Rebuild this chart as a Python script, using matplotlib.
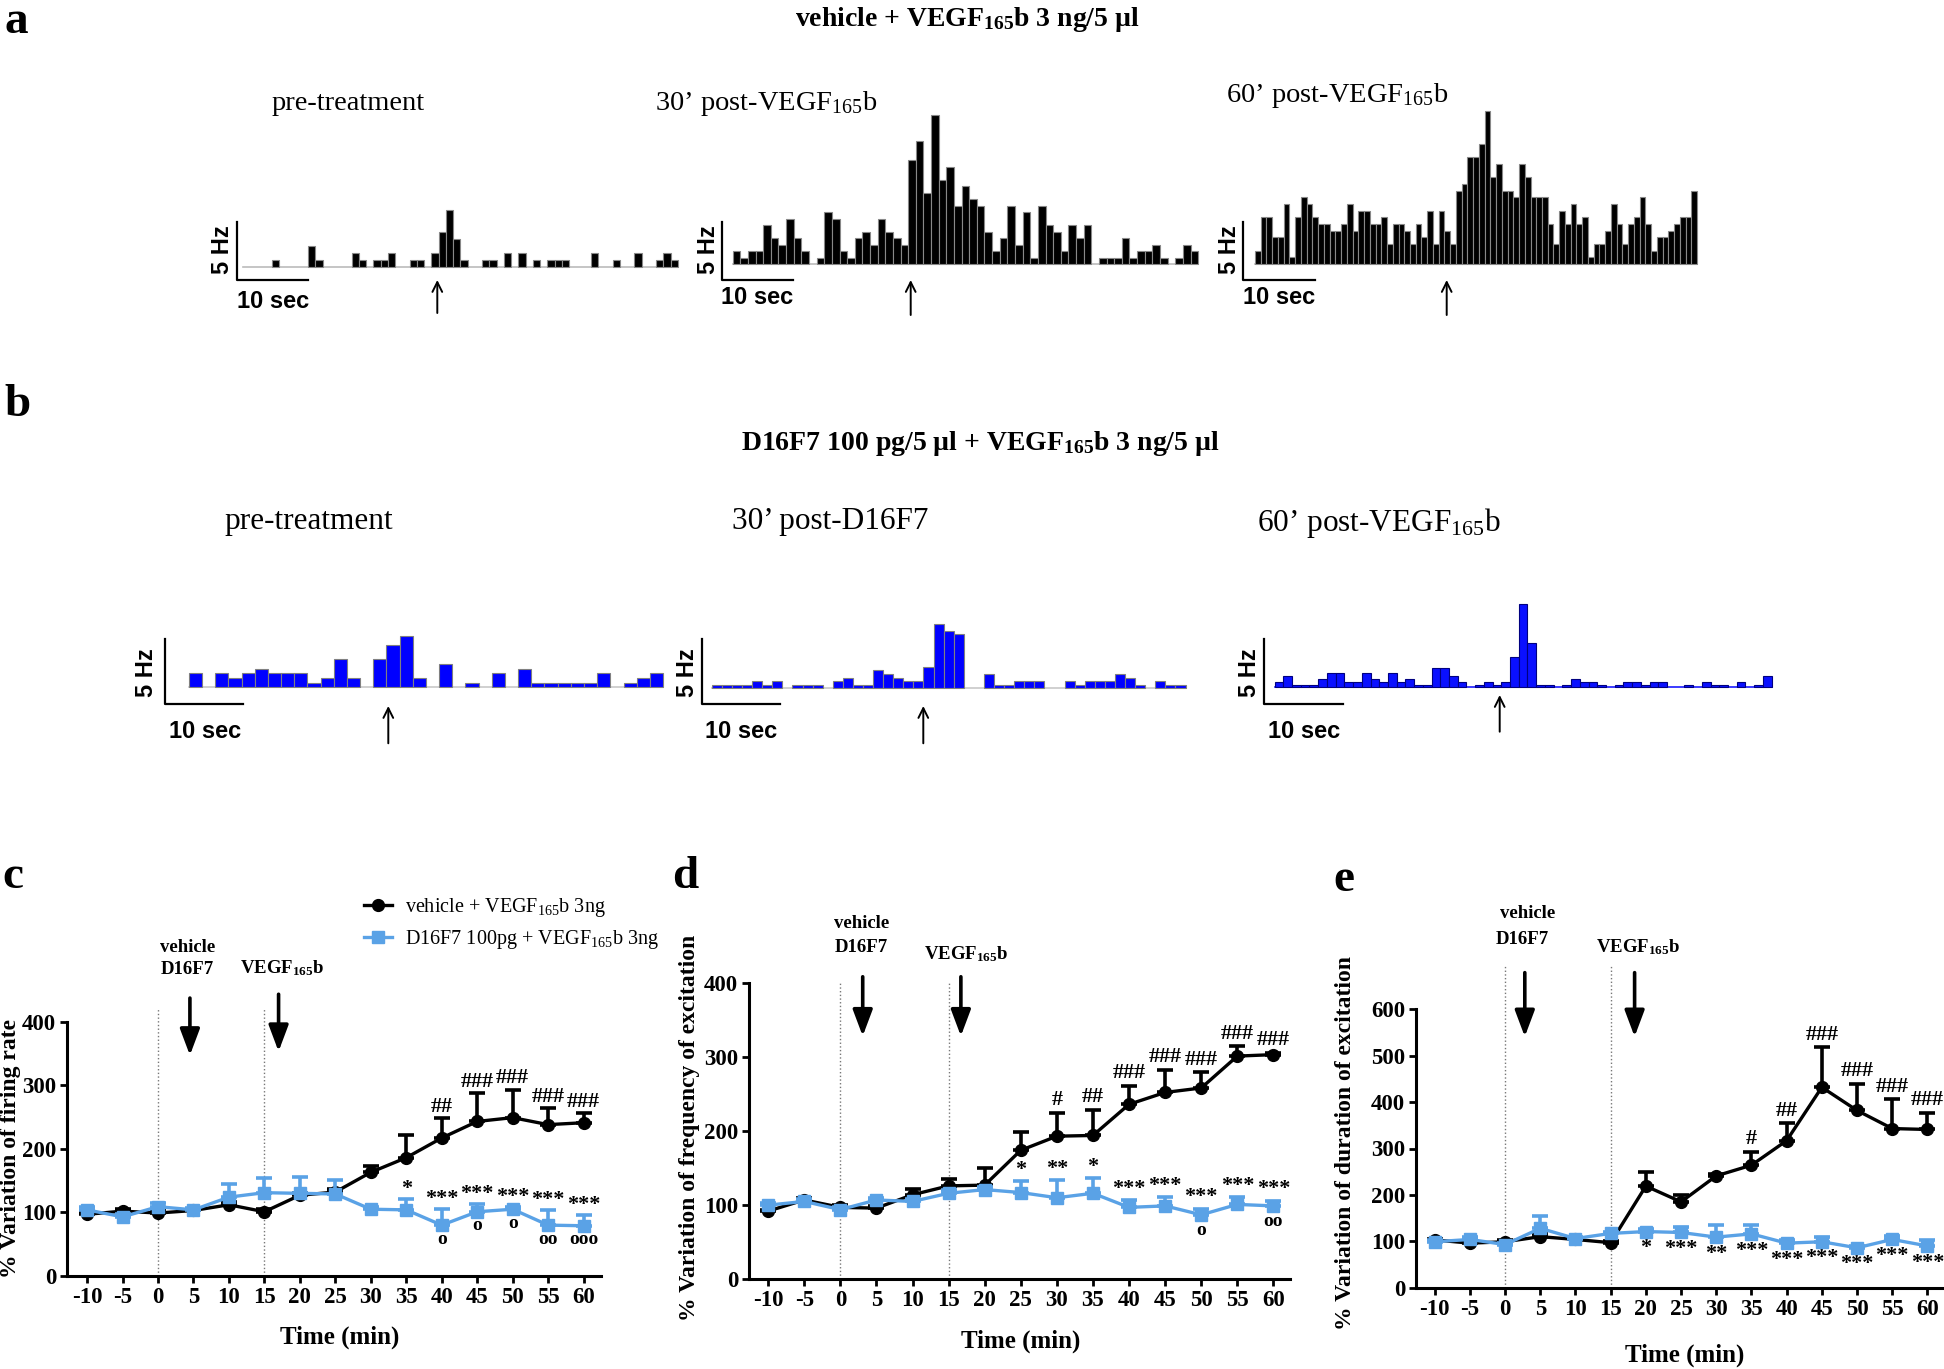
import numpy as np
import matplotlib.pyplot as plt
from matplotlib.lines import Line2D

plt.rcParams['font.family'] = ['Liberation Serif', 'DejaVu Sans']
plt.rcParams['mathtext.fontset'] = 'custom'
plt.rcParams['mathtext.rm'] = 'Liberation Serif'
plt.rcParams['mathtext.it'] = 'Liberation Serif:italic'
plt.rcParams['mathtext.bf'] = 'Liberation Serif:bold'
plt.rcParams['axes.unicode_minus'] = False

W, H = 1944, 1369

# --- panels a/b: firing histograms (spikes per bin) ---
hist_a1 = [0, 0, 0, 0, 1, 0, 0, 0, 0, 3, 1, 0, 0, 0, 0, 2, 1, 0, 1, 1,
           2, 0, 0, 1, 1, 0, 2, 5, 8, 4, 1, 0, 0, 1, 1, 0, 2, 0, 2, 0,
           1, 0, 1, 1, 1, 0, 0, 0, 2, 0, 0, 1, 0, 0, 2, 0, 0, 1, 2, 1]
hist_a2 = [2, 1, 2, 2, 6, 4, 3, 7, 4, 2, 0, 1, 8, 7, 2, 1, 4, 5, 3, 7,
           5, 4, 3, 16, 19, 11, 23, 13, 15, 9, 12, 10, 9, 5, 2, 4, 9, 3, 8, 1,
           9, 6, 5, 2, 6, 4, 6, 0, 1, 1, 1, 4, 1, 2, 2, 3, 1, 0, 1, 3, 2]
hist_a3 = [2, 7, 7, 4, 4, 9, 1, 7, 10, 9, 7, 6, 6, 5, 5, 6, 9, 5, 8, 8,
           6, 6, 7, 3, 6, 6, 5, 3, 6, 4, 8, 3, 8, 5, 3, 11, 12, 16, 16, 18,
           23, 13, 15, 11, 11, 10, 15, 13, 10, 10, 10, 6, 3, 8, 6, 9, 6, 7, 1, 3,
           3, 5, 9, 6, 3, 6, 7, 10, 6, 2, 4, 4, 5, 6, 7, 7, 11]
hist_b1 = [3, 0, 3, 2, 3, 4, 3, 3, 3, 1, 2, 6, 2, 0, 6, 9, 11, 2, 0, 5,
           0, 1, 0, 3, 0, 4, 1, 1, 1, 1, 1, 3, 0, 1, 2, 3]
hist_b2 = [1, 1, 1, 1, 2, 1, 2, 0, 1, 1, 1, 0, 2, 3, 1, 1, 5, 4, 3, 2,
           2, 6, 18, 16, 15, 0, 0, 4, 1, 1, 2, 2, 2, 0, 0, 2, 1, 2, 2, 2,
           4, 3, 1, 0, 2, 1, 1]
hist_b3 = [2, 4, 1, 1, 1, 3, 5, 5, 2, 2, 5, 3, 2, 5, 2, 3, 1, 1, 7, 7,
           4, 2, 0, 1, 2, 1, 2, 11, 30, 16, 1, 1, 0, 1, 3, 2, 2, 1, 0, 1,
           2, 2, 1, 2, 2, 0, 0, 1, 0, 2, 1, 1, 0, 2, 0, 1, 4]

# --- panels c/d/e: % variation, mean and upper SEM ---
time = [-10, -5, 0, 5, 10, 15, 20, 25, 30, 35, 40, 45, 50, 55, 60]

rate_veh = [97, 102, 99, 103, 112, 101, 127, 132, 163, 186, 217, 243, 249, 238, 241]
rate_veh_err = [3, 3, 4, 3, 5, 4, 4, 5, 10, 36, 31, 44, 44, 26, 15]
rate_d16 = [104, 93, 109, 104, 124, 131, 130, 129, 105, 104, 80, 101, 105, 80, 79]
rate_d16_err = [4, 4, 5, 3, 20, 23, 26, 22, 4, 17, 26, 12, 4, 24, 17]

freq_veh = [92, 107, 97, 96, 114, 126, 127, 174, 193, 194, 236, 252, 258, 301, 303]
freq_veh_err = [2, 3, 3, 3, 8, 9, 23, 25, 31, 34, 25, 30, 21, 13, 2]
freq_d16 = [100, 105, 94, 107, 105, 116, 121, 117, 110, 116, 97, 99, 87, 101, 99]
freq_d16_err = [3, 3, 3, 3, 3, 4, 3, 15, 24, 20, 10, 12, 8, 10, 7]

dur_veh = [103, 96, 99, 110, 104, 97, 219, 185, 241, 264, 317, 432, 382, 343, 341]
dur_veh_err = [3, 3, 3, 5, 3, 3, 31, 15, 4, 29, 37, 86, 58, 63, 35]
dur_d16 = [99, 104, 93, 128, 106, 117, 121, 119, 109, 116, 96, 99, 86, 104, 90]
dur_d16_err = [4, 5, 4, 27, 4, 4, 5, 11, 26, 19, 7, 10, 4, 7, 13]

# significance marks per time point
rate_hash = ['', '', '', '', '', '', '', '', '', '', '##', '###', '###', '###', '###']
rate_star = ['', '', '', '', '', '', '', '', '', '*', '***', '***', '***', '***', '***']
rate_circ = ['', '', '', '', '', '', '', '', '', '', 'o', 'o', 'o', 'oo', 'ooo']
freq_hash = ['', '', '', '', '', '', '', '', '#', '##', '###', '###', '###', '###', '###']
freq_star = ['', '', '', '', '', '', '', '*', '**', '*', '***', '***', '***', '***', '***']
freq_circ = ['', '', '', '', '', '', '', '', '', '', '', '', 'o', '', 'oo']
dur_hash = ['', '', '', '', '', '', '', '', '', '#', '##', '###', '###', '###', '###']
dur_star = ['', '', '', '', '', '', '*', '***', '**', '***', '***', '***', '***', '***', '***']

BLUE = '#5aa2e6'
SANS = ['Liberation Sans', 'DejaVu Sans']

fig = plt.figure(figsize=(W / 100, H / 100), dpi=100)
lay = fig.add_axes([0, 0, 1, 1])
lay.set_xlim(0, W)
lay.set_ylim(H, 0)
lay.axis('off')


def hist_panel(counts, x0, bw, base, unit, face, edge, base_col):
    # full-figure axes whose data units are bins / counts
    ax = fig.add_axes([0, 0, 1, 1])
    ax.set_xlim(-x0 / bw, (W - x0) / bw)
    ax.set_ylim((base - H) / unit, base / unit)
    ax.axis('off')
    ax.patch.set_alpha(0)
    c = np.asarray(counts)
    idx = np.arange(len(c))
    ax.plot([0, len(c)], [0, 0], color=base_col, lw=1.2, zorder=1)
    ax.bar(idx[c > 0], c[c > 0], width=1, align='edge', color=face,
           edgecolor=edge, linewidth=0.8, zorder=2)
    return ax


def scale_bar(x, top, bottom, right, hz_xy, sec_xy, arrow_x, arrow_y):
    lay.plot([x, x, right], [top, bottom, bottom], color='k', lw=1.6)
    lay.text(*hz_xy, '5 Hz', rotation=90, ha='center', va='center',
             fontsize=17, fontweight='bold', family=SANS)
    lay.text(*sec_xy, '10 sec', ha='center', va='center',
             fontsize=17, fontweight='bold', family=SANS)
    lay.annotate('', xy=(arrow_x, arrow_y[1]), xytext=(arrow_x, arrow_y[0]),
                 arrowprops=dict(arrowstyle='->,head_width=0.35,head_length=0.7',
                                 lw=1.4, color='k', shrinkA=0, shrinkB=0))


# ---------- panel a ----------
lay.text(4, 22, 'a', fontsize=34, fontweight='bold', va='center')
lay.text(967, 20, r'vehicle + VEGF$_{\mathbf{165}}$b 3 ng/5 µl', fontsize=20,
         fontweight='bold', ha='center', va='center')
lay.text(348, 104, 'pre-treatment', fontsize=20.5, ha='center', va='center')
lay.text(766, 104, r'30’ post-VEGF$_{165}$b', fontsize=20.5, ha='center', va='center')
lay.text(1337, 95, r'60’ post-VEGF$_{165}$b', fontsize=20.5, ha='center', va='center')

hist_panel(hist_a1, 242.8, 7.25, 267.3, 7.1, 'black', '#888888', '#bbbbbb')
hist_panel(hist_a2, 732.7, 7.63, 264, 6.5, 'black', '#888888', '#bbbbbb')
hist_panel(hist_a3, 1255, 5.74, 264, 6.67, 'black', '#888888', '#bbbbbb')
scale_bar(236.7, 221.7, 280, 308.3, (222, 250), (273, 301), 437.3, (313, 280))
scale_bar(721.7, 221.7, 280, 792.7, (708, 250), (757, 297), 910.7, (315, 280))
scale_bar(1243.3, 221.7, 280, 1315, (1229, 250), (1279, 298), 1446.7, (315, 280))

# ---------- panel b ----------
lay.text(4, 405, 'b', fontsize=34, fontweight='bold', va='center')
lay.text(980, 443, r'D16F7 100 pg/5 µl + VEGF$_{\mathbf{165}}$b 3 ng/5 µl', fontsize=20,
         fontweight='bold', ha='center', va='center')
lay.text(309, 522, 'pre-treatment', fontsize=22.5, ha='center', va='center')
lay.text(830, 522, '30’ post-D16F7', fontsize=22.5, ha='center', va='center')
lay.text(1379, 523, r'60’ post-VEGF$_{165}$b', fontsize=22.5, ha='center', va='center')

hist_panel(hist_b1, 188.9, 13.17, 687.3, 4.67, '#0000ff', '#808080', '#c8c8c8')
hist_panel(hist_b2, 711.8, 10.08, 688.3, 3.6, '#0000ff', '#808080', '#c8c8c8')
hist_panel(hist_b3, 1274.6, 8.72, 687.3, 2.77, '#0a10ff', '#000080', '#1a1aff')
scale_bar(165, 639.3, 704, 243.3, (146, 673), (205, 731.7), 388.3, (743.3, 706))
scale_bar(701.7, 639.3, 704, 780, (687, 673), (741, 731.7), 923.3, (743.3, 706))
scale_bar(1264.3, 639.3, 704.3, 1342.7, (1249, 673), (1304, 731.7), 1499.7, (731.7, 695))


# ---------- panels c, d, e ----------
def line_panel(box, xlim, ylim, yticks, veh, veh_err, d16, d16_err):
    left, right, bottom, top = box
    ax = fig.add_axes([left / W, 1 - bottom / H, (right - left) / W, (bottom - top) / H])
    ax.patch.set_alpha(0)
    ax.set_xlim(*xlim)
    ax.set_ylim(*ylim)
    for s in ('top', 'right'):
        ax.spines[s].set_visible(False)
    for s in ('left', 'bottom'):
        ax.spines[s].set_linewidth(2.2)
    ax.spines['left'].set_bounds(ylim[0], ylim[1])
    ax.set_xticks(time)
    ax.set_yticks(yticks)
    ax.tick_params(direction='out', length=5, width=2, labelsize=16.5, pad=3)
    for lab in ax.get_xticklabels() + ax.get_yticklabels():
        lab.set_fontweight('bold')
    z = np.zeros(len(time))
    ax.errorbar(time, veh, yerr=[z, veh_err], fmt='none', ecolor='k',
                elinewidth=2.6, capsize=6, capthick=2.6, zorder=3)
    ax.errorbar(time, d16, yerr=[z, d16_err], fmt='none', ecolor=BLUE,
                elinewidth=2.6, capsize=6, capthick=2.6, zorder=4)
    ax.plot(time, veh, '-o', color='k', lw=2.4, ms=8.5, zorder=3)
    ax.plot(time, d16, '-s', color=BLUE, lw=2.4, ms=8.5, zorder=4)
    return ax


def marks(ax, base, labels, dy, va, size=16):
    for t, y, s in zip(time, base, labels):
        if s:
            ax.annotate(s, (t, y), xytext=(0, dy), textcoords='offset points',
                        ha='center', va=va, fontsize=size, fontweight='bold',
                        annotation_clip=False)


def stim_marks(ax, line_top, arrows, texts):
    for x in (0, 15):
        ax.plot([x, x], [0, line_top], color='#777777', lw=1, ls=':', clip_on=False)
    for x, y0, y1 in arrows:
        ax.annotate('', xy=(x, y1), xytext=(x, y0), annotation_clip=False,
                    arrowprops=dict(arrowstyle='-|>,head_width=0.3,head_length=0.8',
                                    lw=2.6, color='k', mutation_scale=20,
                                    shrinkA=0, shrinkB=0))
    for (x, y), s in zip(texts, ['vehicle', 'D16F7', r'VEGF$_{\mathbf{165}}$b']):
        lay.text(x, y, s, fontsize=13.5, fontweight='bold', ha='center', va='center')


def up(m, e):
    return [a + b for a, b in zip(m, e)]


# c
lay.text(2, 877, 'c', fontsize=34, fontweight='bold', va='center')
axc = line_panel((67.2, 600.6, 1276, 1021.6), (-12.8, 62.4), (0, 400),
                 [0, 100, 200, 300, 400], rate_veh, rate_veh_err, rate_d16, rate_d16_err)
stim_marks(axc, 421, [(4.5, 437, 347), (17.0, 443, 353)],
           [(188, 947), (187, 970), (282, 968)])
marks(axc, up(rate_veh, rate_veh_err), rate_hash, 1, 'bottom')
marks(axc, up(rate_d16, rate_d16_err), rate_star, 0, 'bottom')
marks(axc, rate_d16, rate_circ, -10, 'center', 14)
axc.set_ylabel('% Variation of firing rate', fontsize=17, fontweight='bold')
axc.yaxis.set_label_coords((10 - 67.2) / (600.6 - 67.2), 0.5)
axc.set_xlabel('Time (min)', fontsize=18, fontweight='bold')
axc.xaxis.set_label_coords((340 - 67.2) / (600.6 - 67.2), -(1337 - 1276) / (1276 - 1021.6))
axc.xaxis.label.set_va('center')
axc.yaxis.label.set_va('center')
handles = [Line2D([], [], color='k', marker='o', lw=2.4, ms=8.5),
           Line2D([], [], color=BLUE, marker='s', lw=2.4, ms=8.5)]
fig.legend(handles, [r'vehicle + VEGF$_{165}$b 3ng', r'D16F7 100pg + VEGF$_{165}$b 3ng'],
           loc='upper left', bbox_to_anchor=(364 / W, 1 - 896 / H), frameon=False,
           fontsize=14.5, handlelength=1.4, handletextpad=0.65, labelspacing=0.45,
           borderpad=0, borderaxespad=0)

# d
lay.text(672, 877, 'd', fontsize=34, fontweight='bold', va='center')
axd = line_panel((749.4, 1290, 1279.3, 982.7), (-12.6, 62.3), (0, 400),
                 [0, 100, 200, 300, 400], freq_veh, freq_veh_err, freq_d16, freq_d16_err)
stim_marks(axd, 400, [(3.1, 408, 328), (16.7, 408, 328)],
           [(862, 924), (861, 947), (966, 954)])
marks(axd, up(freq_veh, freq_veh_err), freq_hash, 2, 'bottom')
marks(axd, up(freq_d16, freq_d16_err), freq_star, 1, 'bottom')
marks(axd, freq_d16, freq_circ, -11, 'center', 14)
axd.set_ylabel('% Variation of frequency of excitation', fontsize=17, fontweight='bold')
axd.yaxis.set_label_coords((690 - 749.4) / (1290 - 749.4), (1279.3 - 1128) / (1279.3 - 982.7))
axd.set_xlabel('Time (min)', fontsize=18, fontweight='bold')
axd.xaxis.set_label_coords((1021 - 749.4) / (1290 - 749.4), -(1341.7 - 1279.3) / (1279.3 - 982.7))
axd.xaxis.label.set_va('center')
axd.yaxis.label.set_va('center')

# e
lay.text(1333, 880, 'e', fontsize=34, fontweight='bold', va='center')
axe = line_panel((1416.4, 1942.9, 1287.7, 1009.3), (-12.6, 62.2), (0, 600),
                 [0, 100, 200, 300, 400, 500, 600], dur_veh, dur_veh_err, dur_d16, dur_d16_err)
stim_marks(axe, 695, [(2.8, 679, 541), (18.4, 679, 541)],
           [(1528, 914), (1522, 939), (1638, 947)])
marks(axe, up(dur_veh, dur_veh_err), dur_hash, 2, 'bottom')
marks(axe, dur_d16, dur_star, -12, 'center')
axe.set_ylabel('% Variation of duration of excitation', fontsize=17, fontweight='bold')
axe.yaxis.set_label_coords((1345 - 1416.4) / (1942.9 - 1416.4), (1287.7 - 1143) / (1287.7 - 1009.3))
axe.set_xlabel('Time (min)', fontsize=18, fontweight='bold')
axe.xaxis.set_label_coords((1684.5 - 1416.4) / (1942.9 - 1416.4), -(1355 - 1287.7) / (1287.7 - 1009.3))
axe.xaxis.label.set_va('center')
axe.yaxis.label.set_va('center')

fig.savefig('out.png', dpi=100)
